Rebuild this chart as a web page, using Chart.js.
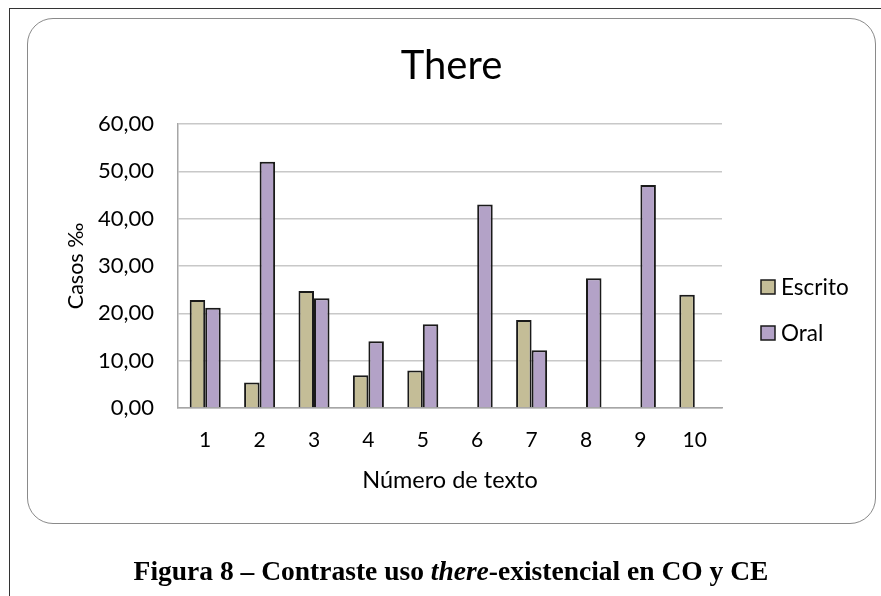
<!DOCTYPE html>
<html>
<head>
<meta charset="utf-8">
<script src="https://cdn.jsdelivr.net/npm/chart.js@4/dist/chart.umd.min.js"></script>
<style>
  html, body { margin: 0; padding: 0; background: #ffffff; }
  body { width: 881px; height: 596px; position: relative; overflow: hidden; }
  .page-frame {
    position: absolute; left: 9px; top: 8px; width: 880px; height: 600px;
    border-top: 1.5px solid #333; border-left: 1.5px solid #333;
  }
  .chart-box {
    position: absolute; left: 27px; top: 18px; width: 847px; height: 504px;
    border: 1.5px solid #8a8a8a; border-radius: 26px; background: #fff;
  }
  #chart { position: absolute; left: 0; top: 0; }
  .caption {
    position: absolute; left: 0; width: 902px; top: 555px; text-align: center;
    font-family: "Liberation Serif", "Times New Roman", serif; font-weight: bold;
    font-size: 27.5px; color: #000; white-space: nowrap;
  }
</style>
</head>
<body>
<div class="page-frame"></div>
<div class="chart-box"></div>
<canvas id="chart" width="881" height="596"></canvas>
<div class="caption">Figura 8 – Contraste uso <i>there</i>-existencial en CO y CE</div>
<script>
// Text numbers along the x axis
const categories = ['1', '2', '3', '4', '5', '6', '7', '8', '9', '10'];
// Cases per thousand words, written texts
const escrito = [22.8, 5.4, 24.7, 6.9, 7.9, 0, 18.6, 0, 0, 23.9];
// Cases per thousand words, spoken texts
const oral = [21.2, 52.0, 23.2, 14.1, 17.7, 43.0, 12.2, 27.4, 47.1, 0];
// Value axis ticks
const yTicks = [0, 10, 20, 30, 40, 50, 60];
const chartTitle = 'There';

const FONT = 'Lato, "Open Sans", sans-serif';
const EDGE = '#1a1a1a';

// Chart title centred over the whole framed box, legend to the right of the plot
const heading = {
  id: 'heading',
  afterDraw(chart) {
    const { ctx, chartArea } = chart;
    ctx.save();
    ctx.font = '40px ' + FONT;
    ctx.fillStyle = '#000';
    ctx.textAlign = 'center';
    ctx.textBaseline = 'middle';
    ctx.fillText(chartTitle, 451.5, chartArea.top - 58);

    const x = chartArea.right + 39;
    ctx.font = '22.5px ' + FONT;
    ctx.textAlign = 'left';
    chart.data.datasets.forEach((ds, i) => {
      const cy = chartArea.top + 163 + i * 46;
      ctx.fillStyle = ds.backgroundColor;
      ctx.fillRect(x, cy - 7, 14, 14);
      ctx.lineWidth = 1.5;
      ctx.strokeStyle = EDGE;
      ctx.strokeRect(x, cy - 7, 14, 14);
      ctx.fillStyle = '#000';
      ctx.fillText(ds.label, x + 20, cy + 1);
    });
    ctx.restore();
  }
};

new Chart(document.getElementById('chart'), {
  type: 'bar',
  data: {
    labels: categories,
    datasets: [
      { label: 'Escrito', data: escrito, backgroundColor: '#c4bd97', borderColor: EDGE, borderWidth: 2 },
      { label: 'Oral', data: oral, backgroundColor: '#b3a2c7', borderColor: EDGE, borderWidth: 2 }
    ]
  },
  plugins: [heading],
  options: {
    responsive: false,
    animation: false,
    layout: { padding: { left: 50, right: 159, top: 124, bottom: 101 } },
    datasets: { bar: { categoryPercentage: 0.57, barPercentage: 1.0 } },
    plugins: {
      title: { display: false },
      legend: { display: false },
      tooltip: { enabled: false }
    },
    scales: {
      x: {
        afterFit(scale) { scale.height = 87; },
        grid: { display: false, drawTicks: false },
        border: { display: true, color: '#a6a6a6', width: 1.5 },
        ticks: { color: '#000', font: { family: FONT, size: 21 }, padding: 20 },
        title: { display: true, text: 'Número de texto', color: '#000', font: { family: FONT, size: 23.5 }, padding: 0 }
      },
      y: {
        min: 0, max: 60,
        afterFit(scale) { scale.width = 128; },
        afterBuildTicks(scale) { scale.ticks = yTicks.map(v => ({ value: v })); },
        grid: { color: '#c8c8c8', lineWidth: 1.5, drawTicks: false },
        border: { display: true, color: '#a6a6a6', width: 1.5 },
        ticks: {
          color: '#000', font: { family: FONT, size: 22 }, padding: 24,
          callback: v => v.toFixed(2).replace('.', ',')
        },
        title: { display: true, text: 'Casos ‰', color: '#000', font: { family: FONT, size: 21.5 }, padding: { top: 13, bottom: 0 } }
      }
    }
  }
});
</script>
</body>
</html>
